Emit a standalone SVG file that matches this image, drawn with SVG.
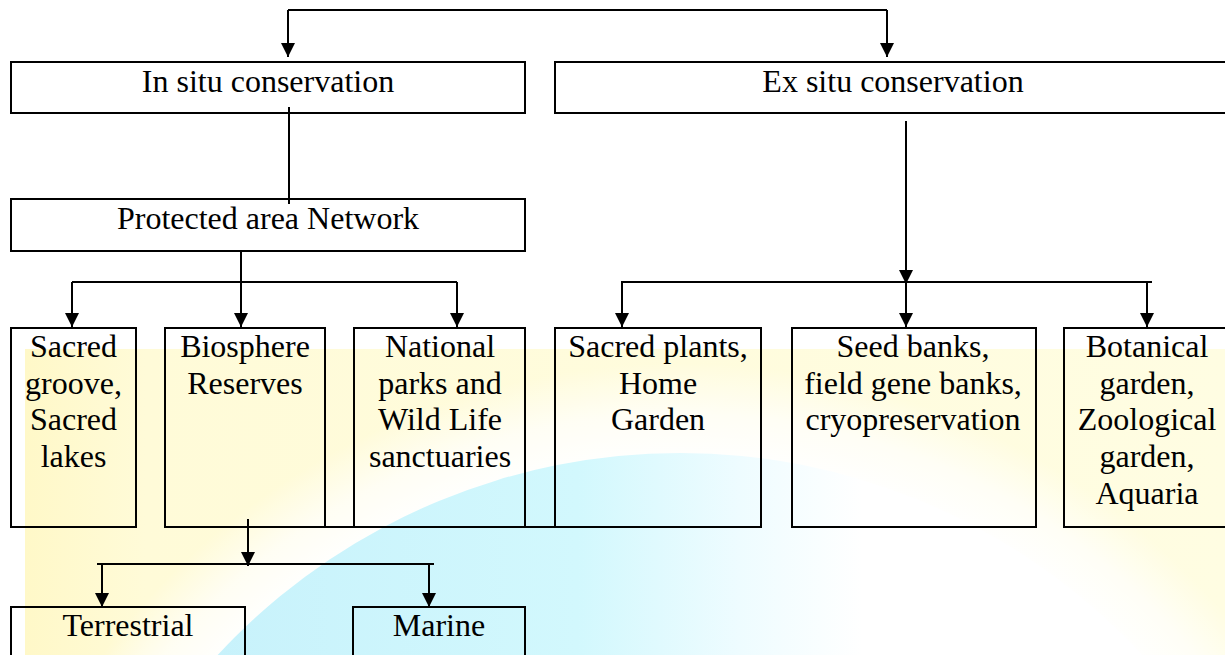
<svg xmlns="http://www.w3.org/2000/svg" width="1225" height="655" viewBox="0 0 1225 655">
<style>
.box{fill:none;stroke:#000;stroke-width:2}
.t{font-family:"Liberation Serif","Times New Roman",serif;font-size:32px;fill:#000;text-anchor:middle}
.ln{fill:none;stroke:#000;stroke-width:2}
.ar{fill:none;stroke:#000;stroke-width:2;marker-end:url(#ah)}
</style>
<defs>
<marker id="ah" viewBox="0 0 10 10" refX="10" refY="5" markerUnits="userSpaceOnUse" markerWidth="14" markerHeight="15" orient="auto">
<path d="M0,0 L10,5 L0,10 z" fill="#000"/>
</marker>
<linearGradient id="yel" x1="0" y1="0" x2="1" y2="0">
<stop offset="0" stop-color="#fff8c8"/>
<stop offset="0.1" stop-color="#fffbd8"/>
<stop offset="1" stop-color="#fffde2"/>
</linearGradient>
<radialGradient id="halo" cx="680" cy="1083" r="720" gradientUnits="userSpaceOnUse">
<stop offset="0.86" stop-color="#ffffff" stop-opacity="1"/>
<stop offset="0.93" stop-color="#ffffff" stop-opacity="0.7"/>
<stop offset="1" stop-color="#ffffff" stop-opacity="0"/>
</radialGradient>
<linearGradient id="globe" x1="150" y1="0" x2="1100" y2="0" gradientUnits="userSpaceOnUse">
<stop offset="0" stop-color="#c6f1fb"/>
<stop offset="0.45" stop-color="#d2f8fd"/>
<stop offset="0.62" stop-color="#eefcff"/>
<stop offset="0.75" stop-color="#ffffff"/>
<stop offset="1" stop-color="#ffffff"/>
</linearGradient>
</defs>
<rect width="1225" height="655" fill="#fff"/>
<g id="watermark">
<rect x="25" y="349" width="1200" height="306" fill="url(#yel)"/>
<circle cx="680" cy="1083" r="720" fill="url(#halo)"/>
<circle cx="680" cy="1083" r="630" fill="url(#globe)"/>
</g>
<g id="connectors">
<path class="ln" d="M288,10 H887"/>
<path class="ar" d="M288,10 V57"/>
<path class="ar" d="M887,10 V57"/>
<path class="ln" d="M289,107 V204"/>
<path class="ln" d="M241,251 V282"/>
<path class="ln" d="M72,282 H457"/>
<path class="ar" d="M72,282 V327"/>
<path class="ar" d="M241,282 V327"/>
<path class="ar" d="M457,282 V327"/>
<path class="ar" d="M906,121 V284"/>
<path class="ln" d="M621,282 H1152"/>
<path class="ar" d="M622,282 V327"/>
<path class="ar" d="M906,282 V327"/>
<path class="ar" d="M1147,282 V327"/>
<path class="ln" d="M325,527 H555"/>
<path class="ar" d="M248,519 V566"/>
<path class="ln" d="M97,564 H434"/>
<path class="ar" d="M102,564 V607"/>
<path class="ar" d="M429,564 V607"/>
</g>
<g id="in-situ">
<rect class="box" x="11" y="62" width="514" height="51"/>
<text class="t" x="268" y="92">In situ conservation</text>
</g>
<g id="ex-situ">
<rect class="box" x="555" y="62" width="680" height="51"/>
<text class="t" x="893" y="92">Ex situ conservation</text>
</g>
<g id="protected">
<rect class="box" x="11" y="199" width="514" height="52"/>
<text class="t" x="268" y="229">Protected area Network</text>
</g>
<g id="sacred-groove">
<rect class="box" x="11" y="328" width="125" height="199"/>
<text class="t" x="73.5" y="357">Sacred</text>
<text class="t" x="73.5" y="394">groove,</text>
<text class="t" x="73.5" y="430">Sacred</text>
<text class="t" x="73.5" y="467">lakes</text>
</g>
<g id="biosphere">
<rect class="box" x="165" y="328" width="160" height="199"/>
<text class="t" x="245" y="357">Biosphere</text>
<text class="t" x="245" y="394">Reserves</text>
</g>
<g id="national-parks">
<rect class="box" x="354" y="328" width="171" height="199"/>
<text class="t" x="440" y="357">National</text>
<text class="t" x="440" y="394">parks and</text>
<text class="t" x="440" y="430">Wild Life</text>
<text class="t" x="440" y="467">sanctuaries</text>
</g>
<g id="sacred-plants">
<rect class="box" x="555" y="328" width="206" height="199"/>
<text class="t" x="658" y="357">Sacred plants,</text>
<text class="t" x="658" y="394">Home</text>
<text class="t" x="658" y="430">Garden</text>
</g>
<g id="seed-banks">
<rect class="box" x="792" y="328" width="244" height="199"/>
<text class="t" x="913" y="357">Seed banks,</text>
<text class="t" x="913" y="394">field gene banks,</text>
<text class="t" x="913" y="430">cryopreservation</text>
</g>
<g id="botanical">
<rect class="box" x="1064" y="328" width="170" height="199"/>
<text class="t" x="1147" y="357">Botanical</text>
<text class="t" x="1147" y="394">garden,</text>
<text class="t" x="1147" y="430">Zoological</text>
<text class="t" x="1147" y="467">garden,</text>
<text class="t" x="1147" y="504">Aquaria</text>
</g>
<g id="terrestrial">
<rect class="box" x="11" y="607" width="234" height="60"/>
<text class="t" x="128" y="636">Terrestrial</text>
</g>
<g id="marine">
<rect class="box" x="353" y="607" width="172" height="60"/>
<text class="t" x="439" y="636">Marine</text>
</g>
</svg>
